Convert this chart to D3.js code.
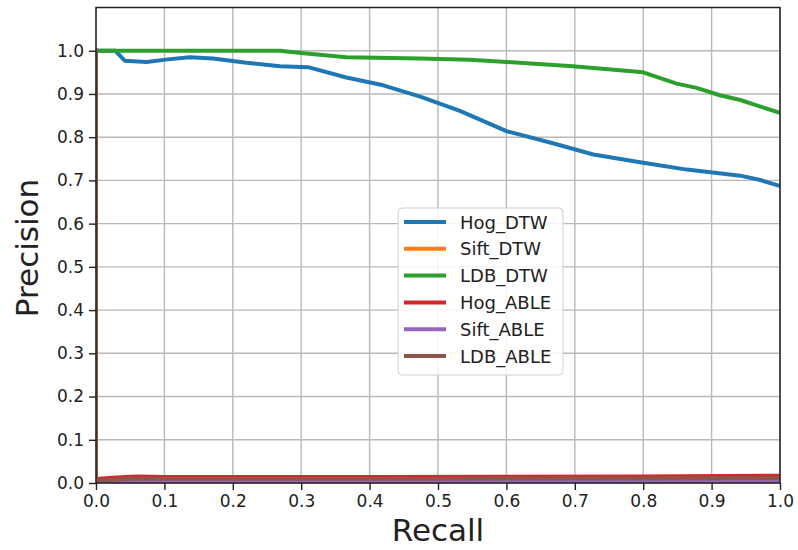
<!DOCTYPE html>
<html>
<head>
<meta charset="utf-8">
<script src="https://cdn.jsdelivr.net/npm/d3@7"></script>
<style>
  body { margin: 0; background: #fff; }
  text { font-family: "DejaVu Sans", sans-serif; fill: #222; }
  .grid line { stroke: #b8b8b8; stroke-width: 1.4; }
</style>
</head>
<body>
<svg id="chart" width="798" height="550"></svg>
<script>
// series names and colours (matplotlib tab10 order)
var seriesNames = ['Hog_DTW', 'Sift_DTW', 'LDB_DTW', 'Hog_ABLE', 'Sift_ABLE', 'LDB_ABLE'];
var seriesColors = ['#1f77b4', '#ff7f0e', '#2ca02c', '#d62728', '#9467bd', '#8c564b'];

// [recall, precision] pairs
var hogDtw = [[0, 1.0], [0.028, 1.0], [0.042, 0.977], [0.074, 0.974], [0.105, 0.980], [0.137, 0.985],
  [0.171, 0.982], [0.22, 0.972], [0.269, 0.964], [0.31, 0.962], [0.366, 0.938], [0.42, 0.920],
  [0.474, 0.894], [0.532, 0.861], [0.60, 0.814], [0.668, 0.786], [0.727, 0.760], [0.80, 0.741],
  [0.864, 0.725], [0.942, 0.711], [0.971, 0.701], [1.0, 0.687]];
var siftDtw = [[0, 1.0], [0, 0.003], [0.1, 0.003], [1.0, 0.004]];
var ldbDtw = [[0, 1.0], [0.269, 1.0], [0.30, 0.995], [0.366, 0.985], [0.474, 0.982], [0.547, 0.979],
  [0.60, 0.974], [0.697, 0.964], [0.80, 0.950], [0.849, 0.924], [0.878, 0.914], [0.912, 0.897],
  [0.942, 0.886], [1.0, 0.856]];
var hogAble = [[0, 1.0], [0, 0.009], [0.03, 0.013], [0.06, 0.015], [0.1, 0.014], [0.4, 0.014],
  [0.8, 0.015], [1.0, 0.017]];
var siftAble = [[0, 1.0], [0, 0.002], [0.1, 0.004], [1.0, 0.005]];
var ldbAble = [[0, 1.0], [0, 0.005], [0.05, 0.010], [0.5, 0.010], [1.0, 0.011]];

var seriesData = [hogDtw, siftDtw, ldbDtw, hogAble, siftAble, ldbAble];
var tickValues = [0, 0.1, 0.2, 0.3, 0.4, 0.5, 0.6, 0.7, 0.8, 0.9, 1.0];

var margin = { left: 96, top: 7.5, right: 18, bottom: 67 };
var width = 798 - margin.left - margin.right;
var height = 550 - margin.top - margin.bottom;

var svg = d3.select('#chart');
var g = svg.append('g').attr('transform', 'translate(' + margin.left + ',' + margin.top + ')');

var x = d3.scaleLinear().domain([0, 1]).range([0, width]);
var y = d3.scaleLinear().domain([0, 1.1]).range([height, 0]);

// grid
g.append('g').attr('class', 'grid')
  .selectAll('line.gx').data(tickValues).enter().append('line')
  .attr('x1', function(d) { return x(d); }).attr('x2', function(d) { return x(d); })
  .attr('y1', 0).attr('y2', height);
g.append('g').attr('class', 'grid')
  .selectAll('line.gy').data(tickValues).enter().append('line')
  .attr('y1', function(d) { return y(d); }).attr('y2', function(d) { return y(d); })
  .attr('x1', 0).attr('x2', width);

// clip lines to the axes box like matplotlib does
svg.append('defs').append('clipPath').attr('id', 'clip')
  .append('rect').attr('width', width).attr('height', height);

var line = d3.line()
  .x(function(d) { return x(d[0]); })
  .y(function(d) { return y(d[1]); });

g.append('g').attr('clip-path', 'url(#clip)')
  .selectAll('path').data(seriesData).enter().append('path')
  .attr('d', line)
  .attr('fill', 'none')
  .attr('stroke', function(d, i) { return seriesColors[i]; })
  .attr('stroke-width', 4)
  .attr('stroke-linejoin', 'round')
  .attr('stroke-linecap', 'square');

// axes
var fmt = d3.format('.1f');
var xAxis = g.append('g').attr('transform', 'translate(0,' + height + ')')
  .call(d3.axisBottom(x).tickValues(tickValues).tickFormat(fmt).tickSize(7).tickPadding(5));
var yAxis = g.append('g')
  .call(d3.axisLeft(y).tickValues(tickValues).tickFormat(fmt).tickSize(7).tickPadding(5));
[xAxis, yAxis].forEach(function(a) {
  a.select('.domain').remove();
  a.selectAll('.tick line').attr('stroke', '#222').attr('stroke-width', 1.4);
  a.selectAll('.tick text').style('font-family', '"DejaVu Sans", sans-serif')
    .style('font-size', '17px').attr('fill', '#222');
});

// frame
g.append('rect').attr('width', width).attr('height', height)
  .attr('fill', 'none').attr('stroke', '#222').attr('stroke-width', 1.5);

// axis labels
svg.append('text')
  .attr('x', margin.left + width / 2).attr('y', 541)
  .attr('text-anchor', 'middle').style('font-size', '31px')
  .text('Recall');
svg.append('text')
  .attr('transform', 'translate(38,248) rotate(-90)')
  .attr('text-anchor', 'middle').style('font-size', '31px')
  .text('Precision');

// legend
var legend = svg.append('g').attr('transform', 'translate(398,208)');
legend.append('rect')
  .attr('width', 165).attr('height', 167).attr('rx', 4)
  .attr('fill', '#fff').attr('fill-opacity', 0.85)
  .attr('stroke', '#d0d0d0').attr('stroke-width', 1);
var rows = legend.selectAll('g.row').data(seriesNames).enter().append('g')
  .attr('transform', function(d, i) { return 'translate(0,' + (14 + i * 26.8) + ')'; });
rows.append('line')
  .attr('x1', 6).attr('x2', 48)
  .attr('stroke', function(d, i) { return seriesColors[i]; })
  .attr('stroke-width', 4);
rows.append('text')
  .attr('x', 62).attr('y', 6.5)
  .style('font-size', '18px')
  .text(function(d) { return d; });
</script>
</body>
</html>
